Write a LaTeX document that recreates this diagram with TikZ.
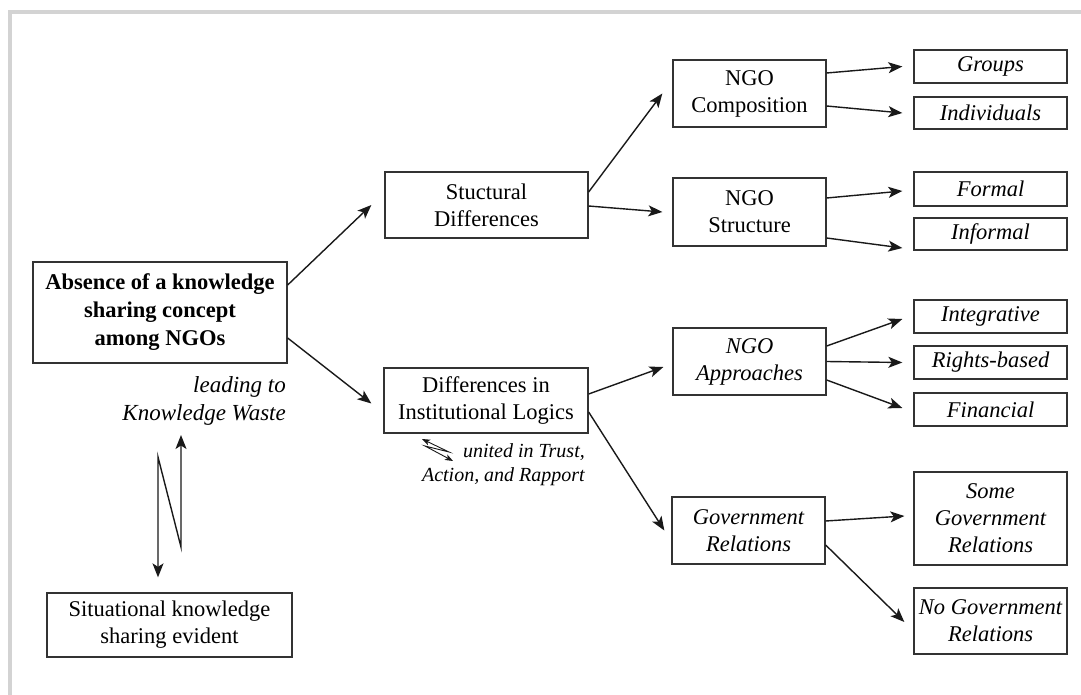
\documentclass[tikz,border=0pt]{standalone}
\usepackage{fontspec}
\setmainfont{Liberation Serif}
\usetikzlibrary{arrows.meta}
\definecolor{framegray}{HTML}{D3D3D3}
\definecolor{boxline}{HTML}{333333}
\tikzset{
  box/.style={draw=boxline, line width=1.3pt, inner sep=0pt, align=center,
    font=\fontsize{22.5}{27}\selectfont},
  ibox/.style={box, font=\fontsize{22.5}{27}\selectfont\itshape},
  conn/.style={draw=black!90, line width=1.4pt, -{Stealth[length=14pt,width=11pt,inset=3.5pt]}},
  smallconn/.style={draw=black!90, line width=0.9pt, {Stealth[length=8pt,width=6pt,inset=2pt]}-{Stealth[length=8pt,width=6pt,inset=2pt]}},
  bigconn/.style={draw=black!90, line width=1.4pt, {Stealth[length=14pt,width=11pt,inset=3.5pt]}-{Stealth[length=14pt,width=11pt,inset=3.5pt]}},
  note/.style={inner sep=0pt, align=right}
}
\begin{document}
\begin{tikzpicture}[x=1pt,y=-1pt]
\useasboundingbox (0,0) rectangle (1081,695);
% frame
\draw[framegray, line width=4pt] (10,695) -- (10,12) -- (1081,12);

% nodes
\node[box, minimum width=254pt, minimum height=101pt, font=\fontsize{22.5}{28}\selectfont\bfseries] (main) at (160,312.5)
  {Absence of a knowledge\\sharing concept\\among NGOs};
\node[note, anchor=north east, font=\fontsize{23}{28}\selectfont\itshape] (lead) at (286,376) {leading to\\Knowledge Waste};
\node[box, minimum width=245pt, minimum height=64pt] (sit) at (169.5,625) {Situational knowledge\\sharing evident};

\node[box, minimum width=203pt, minimum height=66pt] (stuct) at (486.5,205) {Stuctural\\Differences};
\node[box, minimum width=204pt, minimum height=65pt] (diff) at (486,400.5) {Differences in\\Institutional Logics};
\node[note, anchor=north east, font=\fontsize{20}{24}\selectfont\itshape] (unit) at (585,443) {united in Trust,\\Action, and Rapport};

\node[box, minimum width=153pt, minimum height=67pt] (comp) at (749.5,93.5) {NGO\\Composition};
\node[box, minimum width=153pt, minimum height=68pt] (struc) at (749.5,212) {NGO\\Structure};
\node[ibox, minimum width=153pt, minimum height=67pt] (appr) at (749.5,361.5) {NGO\\Approaches};
\node[ibox, minimum width=153pt, minimum height=67pt] (gov) at (748.5,530.5) {Government\\Relations};

\node[ibox, minimum width=153pt, minimum height=33pt] (groups) at (990.5,66.5) {Groups};
\node[ibox, minimum width=153pt, minimum height=32pt] (indiv) at (990.5,113) {Individuals};
\node[ibox, minimum width=153pt, minimum height=34pt] (formal) at (990.5,189) {Formal};
\node[ibox, minimum width=153pt, minimum height=32pt] (informal) at (990.5,234) {Informal};
\node[ibox, minimum width=153pt, minimum height=33pt] (integ) at (990.5,316.5) {Integrative};
\node[ibox, minimum width=153pt, minimum height=33pt] (rights) at (990.5,362.5) {Rights-based};
\node[ibox, minimum width=153pt, minimum height=33pt] (fin) at (990.5,409.5) {Financial};
\node[ibox, minimum width=153pt, minimum height=93pt] (some) at (990.5,518.5) {Some\\Government\\Relations};
\node[ibox, minimum width=153pt, minimum height=66pt] (none) at (990.5,621) {No Government\\Relations};

% connectors
\draw[conn] ([yshift=27.5pt]main.east) -- ([xshift=-13pt]stuct.west);
\draw[conn] ([yshift=-25.5pt]main.east) -- ([xshift=-12pt,yshift=-3pt]diff.west);

\draw[conn] ([yshift=13pt]stuct.east) -- ([xshift=-10pt]comp.west);
\draw[conn] ([yshift=-1pt]stuct.east) -- ([xshift=-10pt]struc.west);

\draw[conn] ([yshift=20.5pt]comp.east) -- ([xshift=-11pt]groups.west);
\draw[conn] ([yshift=-12.5pt]comp.east) -- ([xshift=-11pt]indiv.west);
\draw[conn] ([yshift=14pt]struc.east) -- ([xshift=-11pt,yshift=-2pt]formal.west);
\draw[conn] ([yshift=-26pt]struc.east) -- ([xshift=-11pt,yshift=-14pt]informal.west);

\draw[conn] ([yshift=6.5pt]diff.east) -- ([xshift=-9pt,yshift=-5.5pt]appr.west);
\draw[conn] ([yshift=-11.5pt]diff.east) -- ([xshift=-7pt]gov.west);

\draw[conn] ([yshift=15.5pt]appr.east) -- ([xshift=-11pt,yshift=-2.5pt]integ.west);
\draw[conn] (appr.east) -- ([xshift=-11pt]rights.west);
\draw[conn] ([yshift=-18.5pt]appr.east) -- ([xshift=-11pt,yshift=1.5pt]fin.west);

\draw[conn] ([yshift=9.5pt]gov.east) -- ([xshift=-9pt,yshift=2.5pt]some.west);
\draw[conn] ([yshift=-14.5pt]gov.east) -- ([xshift=-9pt,yshift=-1pt]none.west);

% zigzag between knowledge waste and situational sharing
\coordinate (zb) at ([xshift=-11.5pt,yshift=15pt]sit.north);
\coordinate (zt) at (181,435);
\draw[bigconn] (zb) -- (158,457) -- (181,547) -- (zt);

% small zigzag near "united in Trust"
\coordinate (ua) at (422,439);
\coordinate (ub) at (453,461);
\draw[smallconn] (ua) -- (449,452) -- (425,446) -- (ub);
\end{tikzpicture}
\end{document}
